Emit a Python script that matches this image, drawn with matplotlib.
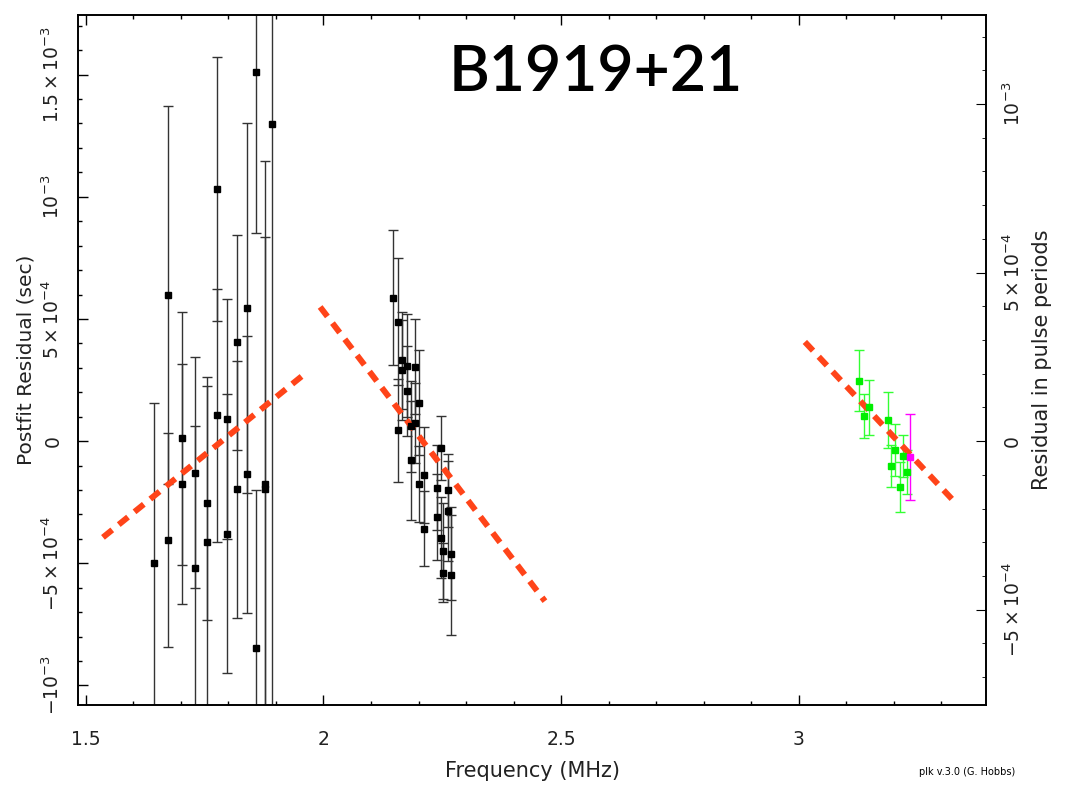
import matplotlib.pyplot as plt
import numpy as np

# pulse period used for the right-hand axis (sec)
period = 1.38

# black points, low band (MHz / microseconds)
freq_a = [1.644, 1.673, 1.673, 1.703, 1.703, 1.729, 1.729, 1.754, 1.754, 1.776, 1.776,
          1.798, 1.798, 1.819, 1.819, 1.839, 1.839, 1.859, 1.859, 1.878, 1.878, 1.891]
resid_a = [-497, 598, -404, 12, -176, -129, -521, -254, -411, 1033, 106,
           90, -379, 404, -198, 545, -136, 1510, -847, -176, -194, 1296]
err_a = [655, 772, 437, 518, 490, 472, 582, 478, 675, 541, 518,
         490, 572, 441, 527, 757, 567, 660, 645, 1323, 1029, 2449]

# black points, middle band
freq_b = [2.146, 2.156, 2.156, 2.166, 2.166, 2.175, 2.175, 2.184, 2.184, 2.193, 2.193,
          2.201, 2.201, 2.211, 2.211, 2.239, 2.239, 2.247, 2.248, 2.252, 2.252,
          2.262, 2.262, 2.268, 2.268]
resid_b = [587, 489, 44, 330, 292, 309, 206, 60, -78, 305, 74,
           158, -175, -140, -358, -191, -311, -29, -395, -450, -538,
           -201, -287, -461, -548]
err_b = [276, 261, 210, 197, 204, 212, 184, 188, 243, 196, 163,
         216, 155, 196, 152, 174, 176, 132, 167, 196, 120,
         150, 204, 191, 244]

# green points, high band
freq_c = [3.127, 3.138, 3.148, 3.187, 3.194, 3.202, 3.213, 3.219, 3.227]
resid_c = [248, 104, 138, 85, -103, -35, -189, -62, -125]
err_c = [124, 90, 113, 114, 86, 107, 102, 86, 90]

# magenta point
freq_d = [3.234]
resid_d = [-65]
err_d = [174]

# dashed lines (start, end)
fit_x = [[1.536, 1.961], [1.993, 2.466], [3.013, 3.333]]
fit_y = [[-394, 276], [549, -655], [406, -259]]

us = 1e-6
txt = '#222222'

fig = plt.figure(figsize=(10.72, 7.85), dpi=100)
ax = fig.add_axes([0.073, 0.1013, 0.8467, 0.8802])

ax.errorbar(freq_a, np.array(resid_a) * us, yerr=np.array(err_a) * us, fmt='s',
            color='black', ms=5, ecolor='#333333', elinewidth=1, capsize=3.5, capthick=1)
ax.errorbar(freq_b, np.array(resid_b) * us, yerr=np.array(err_b) * us, fmt='s',
            color='black', ms=5, ecolor='#333333', elinewidth=1, capsize=3.5, capthick=1)
ax.errorbar(freq_c, np.array(resid_c) * us, yerr=np.array(err_c) * us, fmt='s',
            color='#00ee00', ms=5, ecolor='#33ff33', elinewidth=1, capsize=3.5, capthick=1)
ax.errorbar(freq_d, np.array(resid_d) * us, yerr=np.array(err_d) * us, fmt='s',
            color='#ff00ff', ms=5, ecolor='#ff00ff', elinewidth=1, capsize=3.5, capthick=1)

for xs, ys in zip(fit_x, fit_y):
    ax.plot(xs, np.array(ys) * us, color='#ff4419', lw=4.3, dashes=(2.0, 1.4),
            solid_capstyle='butt', dash_capstyle='butt')

ax.set_xlim(1.484, 3.394)
ax.set_ylim(-1.082e-3, 1.746e-3)

ax.set_xticks([1.5, 2, 2.5, 3])
ax.set_xticklabels(['1.5', '2', '2.5', '3'])
ax.set_xticks(np.arange(1.5, 3.4, 0.1), minor=True)
yt = [-1e-3, -5e-4, 0, 5e-4, 1e-3, 1.5e-3]
ax.set_yticks(yt)
ax.set_yticklabels([r'$-10^{-3}$', r'$-5\times10^{-4}$', '0', r'$5\times10^{-4}$',
                    r'$10^{-3}$', r'$1.5\times10^{-3}$'], rotation=90, va='center')
ax.set_yticks(np.arange(-1e-3, 1.75e-3, 1e-4), minor=True)
ax.tick_params(which='both', direction='in', top=True, right=False, labelsize=13.5,
               labelcolor=txt, width=1)
ax.tick_params(axis='x', which='major', length=7, pad=18)
ax.tick_params(axis='x', which='minor', length=3.2)
ax.tick_params(axis='y', which='major', length=7, pad=11)
ax.tick_params(axis='y', which='minor', length=3.2)

ax2 = ax.twinx()
ax2.set_ylim(-1.082e-3 / period, 1.746e-3 / period)
ax2.set_yticks([-5e-4, 0, 5e-4, 1e-3])
ax2.set_yticklabels([r'$-5\times10^{-4}$', '0', r'$5\times10^{-4}$', r'$10^{-3}$'],
                    rotation=90, va='center')
ax2.set_yticks(np.arange(-7e-4, 1.3e-3, 1e-4), minor=True)
ax2.tick_params(which='both', direction='in', labelsize=13.5, labelcolor=txt)
ax2.tick_params(which='major', length=7, pad=12)
ax2.tick_params(which='minor', length=3.2)

for a in (ax, ax2):
    for s in a.spines.values():
        s.set_linewidth(1.2)

ax.set_xlabel('Frequency (MHz)', fontsize=15, color=txt, labelpad=8)
ax.set_ylabel('Postfit Residual (sec)', fontsize=14.5, color=txt)
ax.yaxis.set_label_coords(-0.047, 0.5)
ax2.set_ylabel('Residual in pulse periods', fontsize=15, color=txt, labelpad=6)

ax.text(0.570, 0.915, 'B1919+21', transform=ax.transAxes, fontsize=45,
        family='Lato', weight='semibold', ha='center', va='center')
fig.text(0.902, 0.016, 'plk v.3.0 (G. Hobbs)', fontsize=7, ha='center', va='center')

fig.savefig('out.png', dpi=100)
